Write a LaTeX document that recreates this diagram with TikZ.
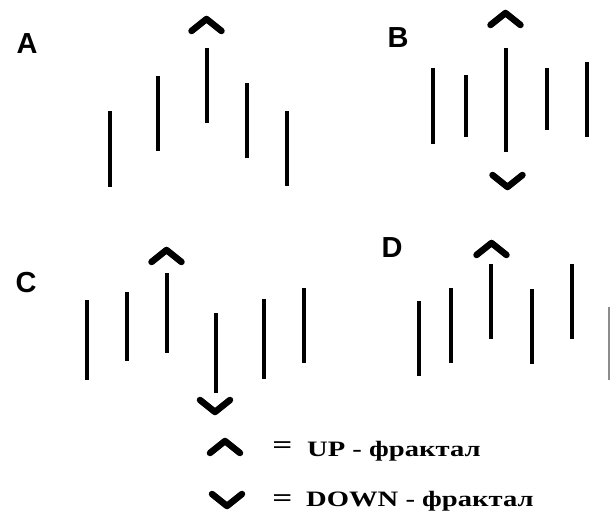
\documentclass[tikz,border=0pt]{standalone}
\usepackage{fontspec}
\setmainfont{Liberation Serif}
\newfontfamily\labelfont{Liberation Sans}
\begin{document}
\begin{tikzpicture}[x=1pt,y=-1pt,
  bar/.style={line width=4pt,line cap=butt},
  chevron/.style={line width=6.5pt,line cap=round,line join=round},
  panel label/.style={inner sep=0pt,font=\labelfont\bfseries\fontsize{29}{29}\selectfont},
  legend text/.style={inner sep=0pt,anchor=base west,font=\bfseries\fontsize{22}{22}\selectfont},
  upmark/.pic={\draw[chevron] (-15,12) -- (0,0) -- (15,12);},
  downmark/.pic={\draw[chevron] (-15,-12) -- (0,0) -- (15,-12);}]
\useasboundingbox (0,0) rectangle (610,511);

% panel A
\node[panel label] (labA) at (27,44) {A};
\draw[bar] (110,111) -- (110,187);
\draw[bar] (158,76) -- (158,151);
\draw[bar] (207,48) -- (207,123);
\draw[bar] (247,83) -- (247,158);
\draw[bar] (287,111) -- (287,186);
\pic at (206.5,19) {upmark};

% panel B
\node[panel label] (labB) at (398,38) {B};
\draw[bar] (433,68) -- (433,144);
\draw[bar] (466,75) -- (466,137);
\draw[bar] (506,48) -- (506,152);
\draw[bar] (547,68) -- (547,130);
\draw[bar] (587,62) -- (587,137);
\pic at (505.5,13) {upmark};
\pic at (507.5,187) {downmark};

% panel C
\node[panel label] (labC) at (26,283) {C};
\draw[bar] (87,300) -- (87,380);
\draw[bar] (127,292) -- (127,361);
\draw[bar] (167,273) -- (167,353);
\draw[bar] (216,313) -- (216,393);
\draw[bar] (264,299) -- (264,379);
\draw[bar] (304,288) -- (304,363);
\pic at (166.5,250) {upmark};
\pic at (215,412) {downmark};

% panel D
\node[panel label] (labD) at (392,248) {D};
\draw[bar] (419,301) -- (419,376);
\draw[bar] (451,288) -- (451,363);
\draw[bar] (491,264) -- (491,339);
\draw[bar] (532,289) -- (532,364);
\draw[bar] (572,264) -- (572,339);
\pic at (491.5,243) {upmark};
\draw[line width=1.5pt,black!45] (609.2,307) -- (609.2,380);

% legend
\pic at (225,441) {upmark};
\pic at (227,506) {downmark};
\node[inner sep=0pt,font=\bfseries\fontsize{22}{22}\selectfont] (eqUp) at (282.5,448) {\scalebox{1.6}[1.15]{=}};
\node[inner sep=0pt,font=\bfseries\fontsize{22}{22}\selectfont] (eqDown) at (282.5,501) {\scalebox{1.6}[1.15]{=}};
\node[legend text] (txtUp) at (307,456) {\scalebox{1.3}[1]{UP - фрактал}};
\node[legend text] (txtDown) at (306,506) {\scalebox{1.3}[1]{DOWN - фрактал}};
\end{tikzpicture}
\end{document}
